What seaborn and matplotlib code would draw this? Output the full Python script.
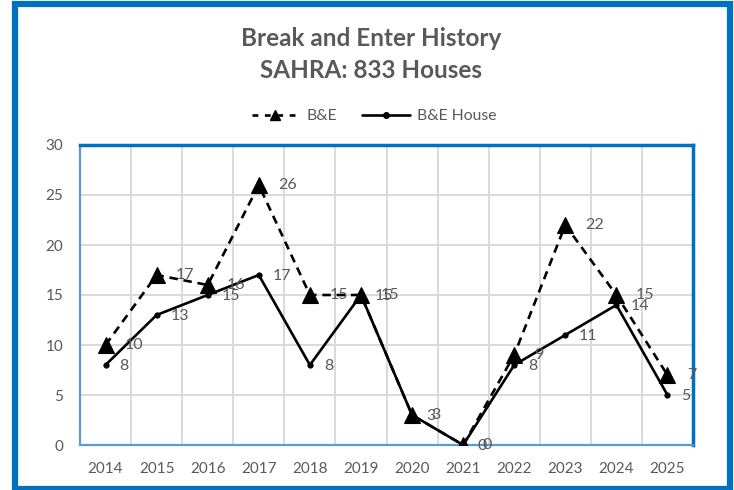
import matplotlib
matplotlib.use("Agg")
import matplotlib.pyplot as plt
from matplotlib.patches import Rectangle
from matplotlib.lines import Line2D
import seaborn as sns
import pandas as pd
import numpy as np

years = [2014, 2015, 2016, 2017, 2018, 2019, 2020, 2021, 2022, 2023, 2024, 2025]
be_values = [10, 17, 16, 26, 15, 15, 3, 0, 9, 22, 15, 7]
house_values = [8, 13, 15, 17, 8, 15, 3, 0, 8, 11, 14, 5]
y_ticks = [0, 5, 10, 15, 20, 25, 30]
title_lines = ["Break and Enter History", "SAHRA: 833 Houses"]
series_names = ["B&E", "B&E House"]

sns.set_theme(style="white")
plt.rcParams['font.family'] = ['Lato', 'DejaVu Sans']

GRAY = "#595959"
BLUE = "#0070C0"

df = pd.DataFrame({"year": years, "be": be_values, "house": house_values})

fig = plt.figure(figsize=(7.34, 4.9), dpi=100)
fig.patch.set_facecolor("white")
ax = fig.add_axes([80/734, 1-445/490, (693-80)/734, 300/490])

sns.lineplot(data=df, x="year", y="be", ax=ax, color="black", lw=1.9,
             linestyle=(0, (3.2, 2.2)), marker="^", markersize=12,
             markeredgewidth=0.8, markeredgecolor="black", zorder=4)
sns.lineplot(data=df, x="year", y="house", ax=ax, color="black", lw=1.9,
             marker="o", markersize=4.5, markeredgewidth=0, zorder=5)

ax.set_xlim(years[0] - 0.5, years[-1] + 0.5)
ax.set_ylim(0, 30)
ax.set_yticks(y_ticks)
ax.set_xticks(years)
ax.set_xticks([y + 0.5 for y in years[:-1]], minor=True)
ax.grid(False)
ax.yaxis.grid(True, which="major", color="#d9d9d9", lw=1.4)
ax.xaxis.grid(True, which="minor", color="#d9d9d9", lw=1.4)
ax.set_axisbelow(True)
ax.set_xlabel("")
ax.set_ylabel("")
ax.tick_params(axis="both", which="both", length=0, labelsize=11, colors=GRAY)
ax.tick_params(axis="x", pad=12)
ax.tick_params(axis="y", pad=12)

for side in ["top", "right"]:
    ax.spines[side].set_color(BLUE)
    ax.spines[side].set_linewidth(2.5)
for side in ["left", "bottom"]:
    ax.spines[side].set_color("#5B9BD5")
    ax.spines[side].set_linewidth(1.6)

for x, v in zip(years, be_values):
    ax.annotate(str(v), (x, v), xytext=(14, 0), textcoords="offset points",
                ha="left", va="center", fontsize=11.5, color=GRAY, zorder=6,
                annotation_clip=False)
for x, v in zip(years, house_values):
    ax.annotate(str(v), (x, v), xytext=(10, -1), textcoords="offset points",
                ha="left", va="center", fontsize=11.5, color=GRAY, zorder=6,
                annotation_clip=False)

handles = [
    Line2D([], [], color="black", lw=1.9, linestyle=(0, (2.2, 2.5)), marker="^", markersize=7),
    Line2D([], [], color="black", lw=1.9, marker="o", markersize=4),
]
fig.legend(handles, series_names, loc="center", bbox_to_anchor=(0.51, 1-116/490),
           ncol=2, frameon=False, fontsize=11.3, labelcolor=GRAY, handlelength=3.0,
           columnspacing=1.6, handletextpad=0.5)

fig.text(0.505, 1-39/490, title_lines[0], ha="center", va="center", fontsize=17.5,
         fontweight="bold", color=GRAY)
fig.text(0.505, 1-71/490, title_lines[1], ha="center", va="center", fontsize=17.5,
         fontweight="bold", color=GRAY)

fig.patches.append(Rectangle((14.5/734, 1-488.5/490), (729.5-14.5)/734, (488.5-4.5)/490,
                             transform=fig.transFigure, fill=False, edgecolor=BLUE,
                             lw=4.5, zorder=10))

fig.savefig("out.png", dpi=100)
